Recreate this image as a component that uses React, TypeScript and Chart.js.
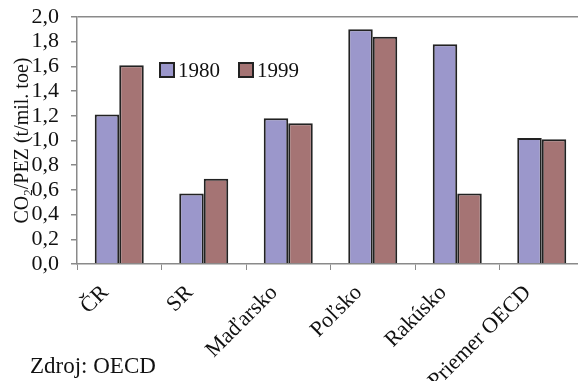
import React, { useEffect, useRef } from "react";
import { Chart, registerables } from "chart.js";

Chart.register(...registerables);

const categories = ["ČR", "SR", "Maďarsko", "Poľsko", "Rakúsko", "Priemer OECD"];
const values1980 = [1.21, 0.57, 1.18, 1.9, 1.78, 1.02];
const values1999 = [1.61, 0.69, 1.14, 1.84, 0.57, 1.01];
const seriesLabels = ["1980", "1999"];
const yTicks = [0, 0.2, 0.4, 0.6, 0.8, 1.0, 1.2, 1.4, 1.6, 1.8, 2.0];
// y-axis title: "CO₂/PEZ (t/mil. toe)" drawn as pieces so the subscript is real
const yTitleParts = ["CO", "2", "/PEZ (t/mil. toe)"];
const sourceNote = "Zdroj: OECD";

const FONT = "'Liberation Serif', 'Times New Roman', serif";
const COLORS = ["#9b97cb", "#a57474"];
const BORDER = "#222222";

const legendPlugin = {
  id: "innerLegend",
  afterDraw(chart: any) {
    const ctx = chart.ctx;
    const area = chart.chartArea;
    ctx.save();
    ctx.font = `21px ${FONT}`;
    ctx.textBaseline = "middle";
    ctx.textAlign = "left";
    let x = area.left + 83;
    const y = area.top + 46;
    chart.data.datasets.forEach((ds: any) => {
      ctx.fillStyle = ds.backgroundColor;
      ctx.fillRect(x, y, 14, 14);
      ctx.strokeStyle = BORDER;
      ctx.lineWidth = 2;
      ctx.strokeRect(x, y, 14, 14);
      ctx.fillStyle = "#111";
      ctx.fillText(ds.label, x + 18, y + 8);
      x += 79;
    });
    ctx.restore();
  },
};

const yTitlePlugin = {
  id: "yTitleDraw",
  afterDraw(chart: any) {
    const ctx = chart.ctx;
    const area = chart.chartArea;
    const mainFont = `20px ${FONT}`;
    const subFont = `13px ${FONT}`;
    ctx.save();
    ctx.fillStyle = "#111";
    ctx.textAlign = "left";
    ctx.textBaseline = "alphabetic";
    ctx.font = mainFont;
    const w0 = ctx.measureText(yTitleParts[0]).width;
    const w2 = ctx.measureText(yTitleParts[2]).width;
    ctx.font = subFont;
    const w1 = ctx.measureText(yTitleParts[1]).width;
    const total = w0 + w1 + w2;
    ctx.translate(28, (area.top + area.bottom) / 2);
    ctx.rotate(-Math.PI / 2);
    let x = -total / 2;
    ctx.font = mainFont;
    ctx.fillText(yTitleParts[0], x, 0);
    x += w0;
    ctx.font = subFont;
    ctx.fillText(yTitleParts[1], x, 4);
    x += w1;
    ctx.font = mainFont;
    ctx.fillText(yTitleParts[2], x, 0);
    ctx.restore();
  },
};

export default function App() {
  const ref = useRef<HTMLCanvasElement>(null);

  useEffect(() => {
    document.body.style.margin = "0";
    let chart: any = null;
    let cancelled = false;
    const build = () => {
      if (cancelled || !ref.current) return;
      chart = new Chart(ref.current, {
        type: "bar",
        data: {
          labels: categories,
          datasets: [
            {
              label: seriesLabels[0],
              data: values1980,
              backgroundColor: COLORS[0],
              borderColor: BORDER,
              borderWidth: 2,
            },
            {
              label: seriesLabels[1],
              data: values1999,
              backgroundColor: COLORS[1],
              borderColor: BORDER,
              borderWidth: 2,
            },
          ],
        },
        options: {
          responsive: false,
          animation: false,
          devicePixelRatio: 1,
          layout: { padding: { top: 17, right: 8, left: 0, bottom: 0 } },
          plugins: {
            legend: { display: false },
            tooltip: { enabled: false },
          },
          datasets: {
            bar: { categoryPercentage: 0.58, barPercentage: 1.0 },
          },
          scales: {
            x: {
              grid: {
                offset: true,
                drawOnChartArea: false,
                tickLength: 6,
                tickColor: "#8a8a8a",
              },
              border: { color: "#8a8a8a", width: 1.5 },
              ticks: {
                color: "#111",
                font: { family: FONT, size: 22 },
                minRotation: 45,
                maxRotation: 45,
                padding: 10,
                labelOffset: -14,
                autoSkip: false,
              },
              afterFit(scale: any) {
                scale.height = 117;
                scale.paddingLeft = 0;
                scale.paddingRight = 0;
              },
            },
            y: {
              min: 0,
              max: 2,
              afterBuildTicks(scale: any) {
                scale.ticks = yTicks.map((v) => ({ value: v }));
              },
              grid: {
                color: (c: any) => (c.tick && c.tick.value === 2 ? "#8a8a8a" : "rgba(0,0,0,0)"),
                lineWidth: 1.5,
                tickLength: 6,
                tickColor: "#8a8a8a",
              },
              border: { color: "#8a8a8a", width: 1.5 },
              ticks: {
                color: "#111",
                font: { family: FONT, size: 22 },
                padding: 12,
                autoSkip: false,
                callback: (v: any) => Number(v).toFixed(1).replace(".", ","),
              },
              afterFit(scale: any) {
                scale.width = 77;
                scale.paddingTop = 0;
                scale.paddingBottom = 0;
              },
            },
          },
        },
        plugins: [legendPlugin, yTitlePlugin],
      });
    };
    const fonts: any = (document as any).fonts;
    if (fonts && fonts.load) {
      Promise.all([
        fonts.load("22px 'Liberation Serif'"),
        fonts.load("13px 'Liberation Serif'"),
      ])
        .catch(() => null)
        .then(() => build());
    } else {
      build();
    }
    return () => {
      cancelled = true;
      if (chart) chart.destroy();
    };
  }, []);

  return (
    <div
      style={{
        position: "fixed",
        left: 0,
        top: 0,
        width: 578,
        height: 381,
        overflow: "hidden",
        background: "#fff",
      }}
    >
      <canvas ref={ref} width={592} height={381} style={{ display: "block" }} />
      <div
        style={{
          position: "absolute",
          left: 30,
          top: 353,
          fontFamily: FONT,
          fontSize: 23,
          color: "#111",
          lineHeight: "26px",
        }}
      >
        {sourceNote}
      </div>
    </div>
  );
}
